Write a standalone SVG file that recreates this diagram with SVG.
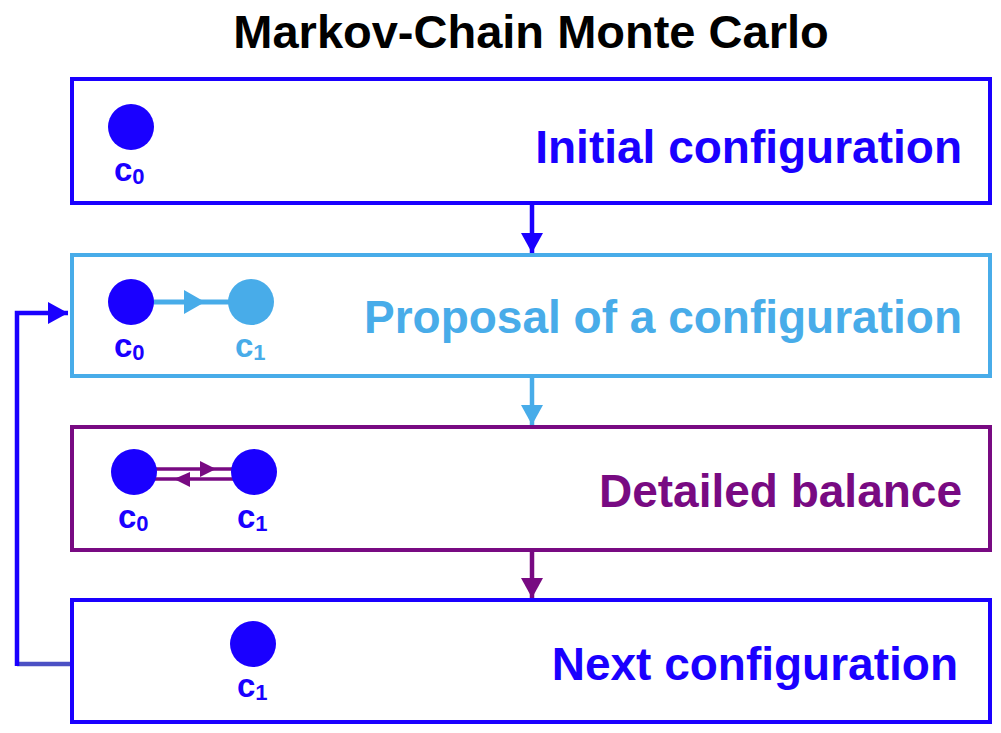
<svg xmlns="http://www.w3.org/2000/svg" width="1001" height="733" viewBox="0 0 1001 733">
<style>
.box{fill:#fff;stroke-width:4}
.t{font-family:"Liberation Sans",Arial,sans-serif;font-weight:bold}
.big{font-size:46px;text-anchor:end}
.lbl{font-size:33px}
.sub{font-size:22px}
.blue{fill:#1A00FF}
.lb{fill:#48ACE9}
.pu{fill:#780A82}
</style>
<defs>
<marker id="ab" markerUnits="userSpaceOnUse" markerWidth="22" markerHeight="22" refX="20" refY="11" orient="auto"><path d="M0,0 L20,11 L0,22 Z" fill="#1A00FF"/></marker>
<marker id="alb" markerUnits="userSpaceOnUse" markerWidth="22" markerHeight="22" refX="20" refY="11" orient="auto"><path d="M0,0 L20,11 L0,22 Z" fill="#48ACE9"/></marker>
<marker id="apu" markerUnits="userSpaceOnUse" markerWidth="22" markerHeight="22" refX="20" refY="11" orient="auto"><path d="M0,0 L20,11 L0,22 Z" fill="#780A82"/></marker>
</defs>
<rect width="1001" height="733" fill="#fff"/>
<text class="t" x="531" y="48" font-size="47" text-anchor="middle" fill="#000">Markov-Chain Monte Carlo</text>

<g id="initial">
<rect class="box" x="72" y="79" width="918" height="124" stroke="#1A00FF"/>
<circle cx="131" cy="127" r="23" fill="#1A00FF"/>
<text class="t blue" x="114" y="181"><tspan class="lbl">c</tspan><tspan class="sub" dy="3">0</tspan></text>
<text class="t big blue" x="962" y="163">Initial configuration</text>
</g>

<g id="proposal">
<rect class="box" x="72" y="255" width="918" height="121" stroke="#48ACE9"/>
<line x1="150" y1="302" x2="232" y2="302" stroke="#48ACE9" stroke-width="5"/>
<path d="M184,290 L205,302 L184,314 Z" fill="#48ACE9"/>
<circle cx="131" cy="302" r="23" fill="#1A00FF"/>
<circle cx="251" cy="302" r="23" fill="#48ACE9"/>
<text class="t blue" x="114" y="357"><tspan class="lbl">c</tspan><tspan class="sub" dy="3">0</tspan></text>
<text class="t lb" x="235" y="357"><tspan class="lbl">c</tspan><tspan class="sub" dy="3">1</tspan></text>
<text class="t big lb" x="962" y="333">Proposal of a configuration</text>
</g>

<g id="balance">
<rect class="box" x="72" y="427" width="918" height="123" stroke="#780A82"/>
<line x1="150" y1="469" x2="238" y2="469" stroke="#780A82" stroke-width="3.5"/>
<line x1="150" y1="479" x2="238" y2="479" stroke="#780A82" stroke-width="3.5"/>
<path d="M200,461 L216,469 L200,477 Z" fill="#780A82"/>
<path d="M190,472 L174,479 L190,487 Z" fill="#780A82"/>
<circle cx="134" cy="472" r="23" fill="#1A00FF"/>
<circle cx="254" cy="472" r="23" fill="#1A00FF"/>
<text class="t blue" x="118" y="528"><tspan class="lbl">c</tspan><tspan class="sub" dy="3">0</tspan></text>
<text class="t blue" x="237" y="528"><tspan class="lbl">c</tspan><tspan class="sub" dy="3">1</tspan></text>
<text class="t big pu" x="962" y="507">Detailed balance</text>
</g>

<g id="next">
<rect class="box" x="72" y="600" width="918" height="122" stroke="#1A00FF"/>
<circle cx="253" cy="644" r="23" fill="#1A00FF"/>
<text class="t blue" x="237" y="697"><tspan class="lbl">c</tspan><tspan class="sub" dy="3">1</tspan></text>
<text class="t big blue" x="958" y="680">Next configuration</text>
</g>

<g id="connectors" fill="none" stroke-width="4.5">
<line x1="532" y1="205" x2="532" y2="253" stroke="#1A00FF" marker-end="url(#ab)"/>
<line x1="532" y1="378" x2="532" y2="425" stroke="#48ACE9" marker-end="url(#alb)"/>
<line x1="532" y1="552" x2="532" y2="598" stroke="#780A82" marker-end="url(#apu)"/>
<line x1="70" y1="664" x2="17" y2="664" stroke="#4B50C4"/>
<polyline points="17,666 17,313 68,313" stroke="#1A00FF" marker-end="url(#ab)"/>
</g>
</svg>
